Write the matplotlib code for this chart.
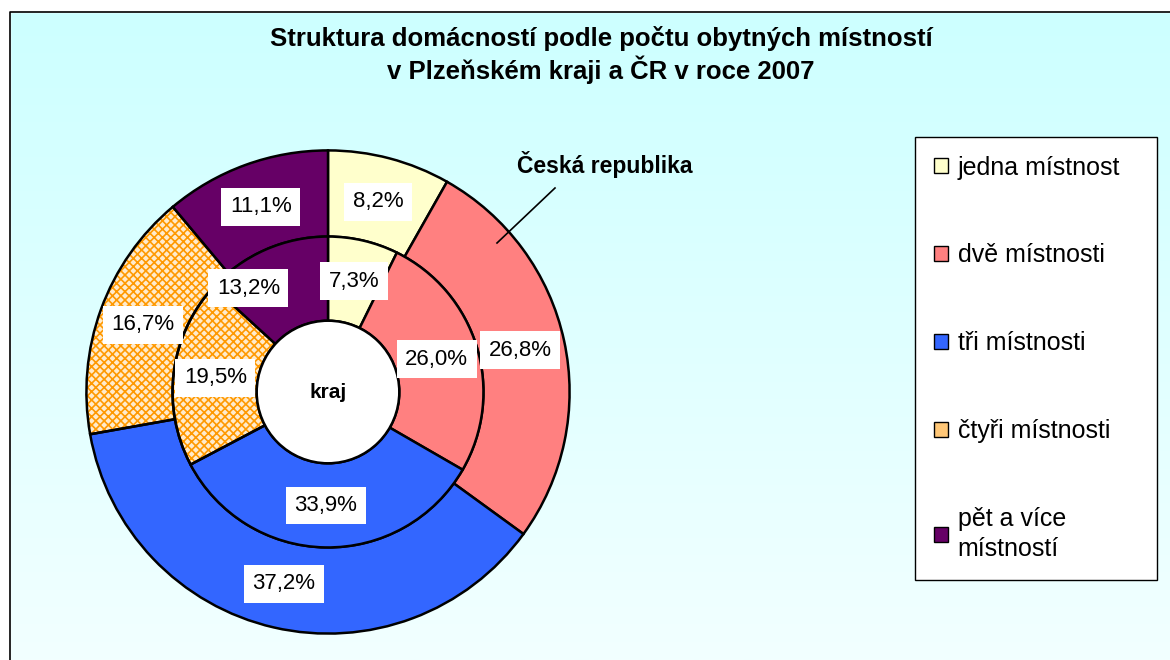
import numpy as np
import matplotlib
matplotlib.use("Agg")
import matplotlib.pyplot as plt
from matplotlib.patches import Wedge, Patch, Rectangle

plt.rcParams['font.family'] = ['Liberation Sans', 'DejaVu Sans']

# data
categories = ['jedna místnost', 'dvě místnosti', 'tři místnosti',
              'čtyři místnosti', 'pět a více\nmístností']
cr_values = [8.2, 26.8, 37.2, 16.7, 11.1]      # Česká republika (outer ring)
kraj_values = [7.3, 26.0, 33.9, 19.5, 13.2]    # Plzeňský kraj (inner ring)
colors = ['#FFFFCC', '#FF8080', '#3366FF', '#FFFFFF', '#660066']
HATCH_IDX = 3
HATCH_FACE = '#FFEBCC'

W, H = 1170, 660
fig = plt.figure(figsize=(W / 100, H / 100), dpi=100)

# background gradient
bg = fig.add_axes([0, 0, 1, 1], zorder=-10)
grad = np.linspace(0, 1, 256).reshape(-1, 1)
cmap = matplotlib.colors.LinearSegmentedColormap.from_list('bg', ['#CCFFFF', '#F2FFFF'])
bg.imshow(grad, aspect='auto', cmap=cmap, extent=[0, 1, 0, 1], origin='upper')
bg.add_patch(Rectangle((0, 0), 10 / W, 1, color='white', transform=bg.transAxes))
bg.add_patch(Rectangle((0, 1 - 12 / H), 1, 12 / H, color='white', transform=bg.transAxes))
bg.plot([10 / W, 10 / W, 1], [0, 1 - 12 / H, 1 - 12 / H], color='black', lw=1.2,
        transform=bg.transAxes)
bg.set_xlim(0, 1)
bg.set_ylim(0, 1)
bg.axis('off')

# pie axes
cx, cy, R = 328, 392, 244
ax = fig.add_axes([(cx - R) / W, (H - cy - R) / H, 2 * R / W, 2 * R / H])
r_mid = 157 / R
r_hole = 72 / R

plt.rcParams['hatch.linewidth'] = 1.2


def ring(values, radius, width, label_r, nudge=None):
    wedges, _ = ax.pie(values, radius=radius, colors=colors, startangle=90,
                       counterclock=False,
                       wedgeprops=dict(width=width, edgecolor='black', linewidth=1.8))
    w = wedges[HATCH_IDX]
    hatch = Wedge(w.center, w.r, w.theta1, w.theta2, width=w.width,
                  facecolor=HATCH_FACE, edgecolor='#FF9900', hatch='xxxx',
                  linewidth=0, zorder=w.get_zorder() - 0.01)
    ax.add_patch(hatch)
    w.set_facecolor('none')
    nudge = nudge or {}
    for i, (wd, v) in enumerate(zip(wedges, values)):
        ang = np.deg2rad((wd.theta1 + wd.theta2) / 2)
        dx = nudge.get(i, 0)
        ax.text(label_r * np.cos(ang) + dx, label_r * np.sin(ang),
                f'{v:.1f}%'.replace('.', ','), ha='center', va='center', fontsize=16,
                bbox=dict(facecolor='white', edgecolor='none', pad=6), zorder=5)


ring(cr_values, 1.0, 1.0 - r_mid, 0.815)
ring(kraj_values, r_mid, r_mid - r_hole, 0.47, nudge={4: -0.14})
ax.add_patch(plt.Circle((0, 0), r_hole, facecolor='white', edgecolor='black', lw=1.8, zorder=3))
ax.text(0, 0, 'kraj', ha='center', va='center', fontsize=15, fontweight='bold')
ax.set_xlim(-1.01, 1.01)
ax.set_ylim(-1.01, 1.01)
ax.set_aspect('equal')

# annotation for outer ring
fig.text(605 / W, 1 - 165 / H, 'Česká republika', ha='center', va='center',
         fontsize=16.5, fontweight='bold')
fig.add_artist(plt.Line2D([497 / W, 555 / W], [1 - 243 / H, 1 - 188 / H],
                          color='black', lw=1.2))

# title
fig.text(601 / W, 1 - 55 / H,
         'Struktura domácností podle počtu obytných místností\nv Plzeňském kraji a ČR v roce 2007',
         ha='center', va='center', fontsize=18.5, fontweight='bold', linespacing=1.2)

# legend
handles = []
for i, (c, lab) in enumerate(zip(colors, categories)):
    if i == HATCH_IDX:
        handles.append(Patch(facecolor='#FFC777', edgecolor='black', label=lab))
    else:
        handles.append(Patch(facecolor=c, edgecolor='black', label=lab))
leg = fig.legend(handles=handles, loc='upper left',
                 bbox_to_anchor=(915 / W, 1 - 137 / H, 242 / W, 0), mode='expand',
                 fontsize=18, frameon=True, fancybox=False, edgecolor='black',
                 framealpha=1, labelspacing=2.55, handlelength=0.55, handleheight=0.55,
                 handletextpad=0.4, borderpad=0.75, borderaxespad=0)
leg.get_frame().set_linewidth(1.0)
leg.get_texts()[4].set_linespacing(1.35)

fig.savefig('out.png', dpi=100)
